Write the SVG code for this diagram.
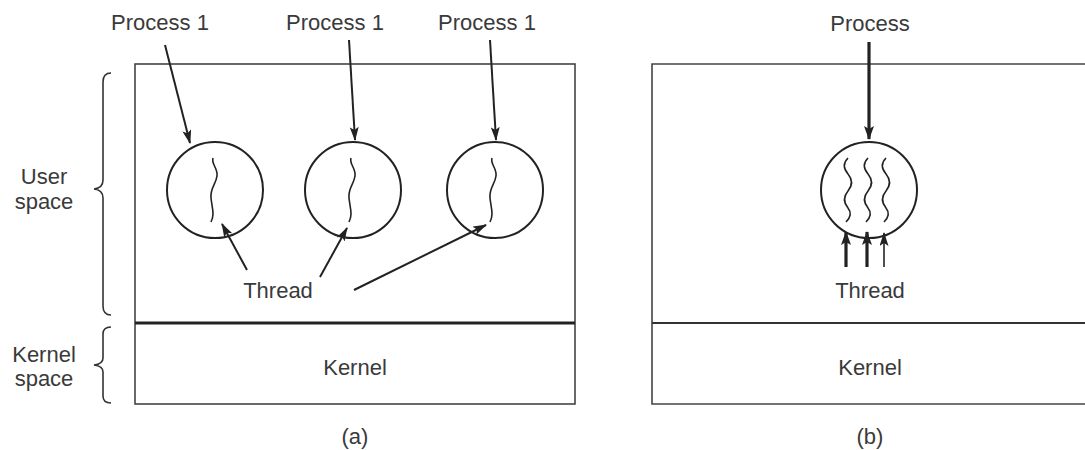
<svg xmlns="http://www.w3.org/2000/svg" width="1085" height="450" viewBox="0 0 1085 450">
<style>
text{font-family:"Liberation Sans",Arial,sans-serif;font-size:22px;fill:#3a3a3a}
.box{fill:none;stroke:#444;stroke-width:1.6}
.div{stroke:#222;stroke-width:3}
.divb{stroke:#333;stroke-width:2}
.circ{fill:none;stroke:#222;stroke-width:2}
.sq{fill:none;stroke:#222;stroke-width:1.6}
.arr{fill:none;stroke:#222;stroke-width:2;marker-end:url(#ah)}
.arrb{fill:none;stroke:#222;stroke-width:3.2;marker-end:url(#ahb)}
.arrt{fill:none;stroke:#222;stroke-width:1.6;marker-end:url(#ah)}
.brace{fill:none;stroke:#333;stroke-width:1.6}
</style>
<defs>
<marker id="ah" viewBox="0 0 14 9" refX="13" refY="4.5" markerWidth="14" markerHeight="9" markerUnits="userSpaceOnUse" orient="auto">
<path d="M0,0 L14,4.5 L0,9 L3,4.5 Z" fill="#222"/>
</marker>
<marker id="ahb" viewBox="0 0 14 10" refX="13" refY="5" markerWidth="14" markerHeight="10" markerUnits="userSpaceOnUse" orient="auto">
<path d="M0,0 L14,5 L0,10 L3,5 Z" fill="#222"/>
</marker>
<path id="sq1" d="M0,0 C-2,6 5,10 4,18 C3,26 -3,30 -2,40 C-1,50 2,56 -2,64"/>
<path id="sq3" d="M0,0 C-5,5 -5,10 0,16 C5,22 5,27 0,33 C-5,39 -5,44 0,50 C4,55 2,60 -2,64"/>
</defs>

<g id="panel-a">
<rect class="box" x="135" y="64" width="440" height="340"/>
<line class="div" x1="135" y1="323" x2="575" y2="323"/>
</g>
<g id="panel-b">
<path class="box" d="M1090,64 H652 V404 H1090"/>
<line class="divb" x1="652" y1="323" x2="1090" y2="323"/>
</g>

<g id="labels-left">
<text x="44" y="184" text-anchor="middle">User</text>
<text x="44" y="209" text-anchor="middle">space</text>
<text x="44" y="362" text-anchor="middle">Kernel</text>
<text x="44" y="386" text-anchor="middle">space</text>
<path class="brace" d="M111,73 Q103,73 103,82 V180 Q103,188 94,189 Q103,190 103,198 V306 Q103,315 111,315"/>
<path class="brace" d="M111,327 Q103,327 103,334 V358 Q103,364 94,365 Q103,366 103,372 V396 Q103,403 111,403"/>
</g>

<g id="process-a1">
<text x="160" y="30" text-anchor="middle">Process 1</text>
<circle class="circ" cx="215" cy="190" r="48"/>
<use href="#sq1" x="213" y="158" class="sq"/>
</g>
<g id="process-a2">
<text x="335" y="30" text-anchor="middle">Process 1</text>
<circle class="circ" cx="353" cy="190" r="48"/>
<use href="#sq1" x="351" y="158" class="sq"/>
</g>
<g id="process-a3">
<text x="487" y="30" text-anchor="middle">Process 1</text>
<circle class="circ" cx="495" cy="190" r="48"/>
<use href="#sq1" x="492" y="158" class="sq"/>
</g>
<g id="thread-a">
<text x="278" y="298" text-anchor="middle">Thread</text>
</g>
<g id="kernel-a">
<text x="355" y="375" text-anchor="middle">Kernel</text>
</g>
<text x="355" y="444" text-anchor="middle">(a)</text>

<g id="process-b">
<text x="870" y="31" text-anchor="middle">Process</text>
<circle class="circ" cx="869" cy="190" r="48"/>
<use href="#sq3" x="848" y="158" class="sq"/>
<use href="#sq3" x="868" y="158" class="sq"/>
<use href="#sq3" x="886" y="158" class="sq"/>
</g>
<g id="thread-b">
<text x="870" y="298" text-anchor="middle">Thread</text>
</g>
<g id="kernel-b">
<text x="870" y="375" text-anchor="middle">Kernel</text>
</g>
<text x="870" y="444" text-anchor="middle">(b)</text>

<g id="connectors">
<line class="arr" x1="165" y1="45" x2="190" y2="143"/>
<line class="arr" x1="349" y1="40" x2="355" y2="140"/>
<line class="arr" x1="490" y1="40" x2="496" y2="140"/>
<line class="arr" x1="247" y1="270" x2="222" y2="224"/>
<line class="arr" x1="320" y1="277" x2="347" y2="228"/>
<line class="arr" x1="354" y1="290" x2="486" y2="225"/>
<line class="arrb" x1="869" y1="42" x2="869" y2="139"/>
<line class="arrb" x1="846" y1="267" x2="846" y2="232"/>
<line class="arrb" x1="867" y1="267" x2="867" y2="232"/>
<line class="arrt" x1="884" y1="267" x2="884" y2="233"/>
</g>
</svg>
